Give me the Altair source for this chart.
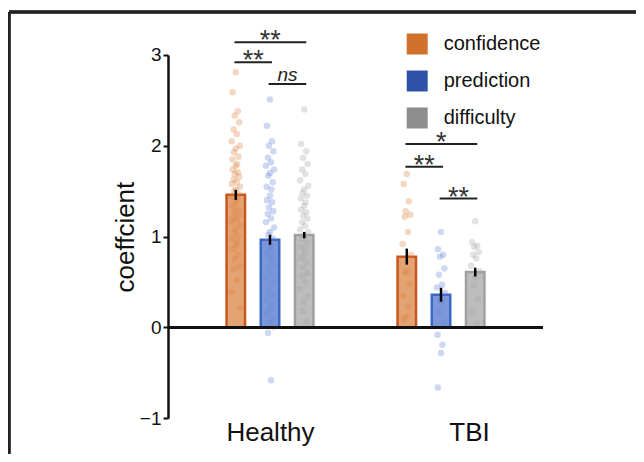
import altair as alt
import pandas as pd

GROUPS = ["Healthy", "TBI"]
MEASURES = ["confidence", "prediction", "difficulty"]
GROUP_POS = [0.0, 5.0]
MEASURE_OFFSET = [-1.0, 0.0, 1.0]
GROUP_LABEL_POS = [0.0, 5.82]

MEAN_HEALTHY = [1.46, 0.965, 1.017]
MEAN_TBI = [0.78, 0.36, 0.61]
SE_HEALTHY = [0.055, 0.055, 0.035]
SE_TBI = [0.088, 0.077, 0.048]

CONF_H = [2.81, 2.59, 2.38, 2.33, 2.26, 2.18, 2.13, 2.05, 2.0, 1.97, 1.93, 1.88, 1.85,
          1.8, 1.78, 1.74, 1.71, 1.69, 1.66, 1.63, 1.6, 1.58, 1.55, 1.52, 1.5, 1.47,
          1.44, 1.41, 1.38, 1.34, 1.3, 1.27, 1.24, 1.21, 1.18, 1.16, 1.12, 1.08, 1.04,
          1.01, 0.97, 0.94, 0.9, 0.86, 0.8, 0.75, 0.68, 0.64, 0.52, 0.39, 0.22]
PRED_H = [2.51, 2.22, 2.05, 2.0, 1.94, 1.87, 1.82, 1.78, 1.74, 1.7, 1.67, 1.6, 1.55,
          1.52, 1.45, 1.4, 1.38, 1.32, 1.28, 1.25, 1.2, 1.16, 1.1, 1.05, 1.02, 0.98,
          0.94, 0.9, 0.86, 0.82, 0.78, 0.75, 0.7, 0.66, 0.6, 0.55, 0.5, 0.46, 0.4,
          0.35, 0.31, 0.25, 0.2, 0.16, 0.1, 0.05, 0.01, -0.06, -0.58]
DIFF_H = [2.40, 2.02, 1.94, 1.87, 1.8, 1.74, 1.69, 1.62, 1.56, 1.52, 1.48, 1.45, 1.42,
          1.38, 1.34, 1.3, 1.27, 1.23, 1.2, 1.16, 1.12, 1.08, 1.05, 1.01, 0.97, 0.93,
          0.89, 0.86, 0.8, 0.76, 0.72, 0.66, 0.6, 0.57, 0.5, 0.42, 0.35, 0.28, 0.18, 0.06]
CONF_T = [1.69, 1.58, 1.39, 1.28, 1.24, 1.22, 1.05, 0.92, 0.8, 0.62, 0.6, 0.48, 0.35,
          0.23, 0.12, 0.09]
PRED_T = [1.05, 0.86, 0.8, 0.78, 0.65, 0.58, 0.47, 0.44, 0.38, 0.28, 0.17, 0.05, -0.08,
          -0.19, -0.28, -0.66]
DIFF_T = [1.17, 0.94, 0.9, 0.89, 0.83, 0.8, 0.76, 0.68, 0.62, 0.55, 0.46, 0.31, 0.17, 0.05]

JITTER = [0.0, -0.09, 0.06, -0.03, 0.1, -0.06, 0.03, -0.12, 0.12, 0.0, -0.05, 0.08, -0.1, 0.04]

SIG_GROUP = ["Healthy", "Healthy", "Healthy", "TBI", "TBI", "TBI"]
SIG_FROM = ["confidence", "confidence", "prediction", "confidence", "confidence", "prediction"]
SIG_TO = ["difficulty", "prediction", "difficulty", "difficulty", "prediction", "difficulty"]
SIG_LEVEL = [3.14, 2.92, 2.68, 2.02, 1.77, 1.42]
SIG_LABEL = ["**", "**", "ns", "*", "**", "**"]

LEGEND_COLORS = ["#D2712E", "#2F52A8", "#8E8E8E"]
BAR_FILL = ["#E3A373", "#7C98DA", "#BDBDBD"]
BAR_STROKE = ["#C9561D", "#3C68C6", "#A0A0A0"]
DOT_COLORS = ["#DC8442", "#6A86DA", "#A5A5A5"]

FONT = "Liberation Sans"

means = {"Healthy": MEAN_HEALTHY, "TBI": MEAN_TBI}
ses = {"Healthy": SE_HEALTHY, "TBI": SE_TBI}
dots = {("Healthy", "confidence"): CONF_H, ("Healthy", "prediction"): PRED_H,
        ("Healthy", "difficulty"): DIFF_H, ("TBI", "confidence"): CONF_T,
        ("TBI", "prediction"): PRED_T, ("TBI", "difficulty"): DIFF_T}


def pos(g, m):
    return GROUP_POS[GROUPS.index(g)] + MEASURE_OFFSET[MEASURES.index(m)]


bar_rows, dot_rows = [], []
for g in GROUPS:
    for mi, m in enumerate(MEASURES):
        p = pos(g, m)
        mu, se = means[g][mi], ses[g][mi]
        bar_rows.append({"group": g, "measure": m, "pos": p, "x0": p - 0.27, "x1": p + 0.27,
                         "mean": mu, "lo": mu - se, "hi": mu + se})
        for i, v in enumerate(dots[(g, m)]):
            dot_rows.append({"group": g, "measure": m, "xp": p + JITTER[i % len(JITTER)], "value": v})
bars_df = pd.DataFrame(bar_rows)
dots_df = pd.DataFrame(dot_rows)

sig_rows = []
for g, a, b, lvl, lab in zip(SIG_GROUP, SIG_FROM, SIG_TO, SIG_LEVEL, SIG_LABEL):
    xa, xb = pos(g, a) - 0.04, pos(g, b) + 0.06
    sig_rows.append({"xa": xa, "xb": xb, "xm": (xa + xb) / 2, "level": lvl, "label": lab})
sig_df = pd.DataFrame(sig_rows)

XSCALE = alt.Scale(domain=[-2.982, 7.982], nice=False, zero=False)
YSCALE = alt.Scale(domain=[-1, 3], nice=False, zero=False)

X_AXIS = alt.Axis(values=GROUP_LABEL_POS, labelExpr="datum.value < 2 ? 'Healthy' : 'TBI'",
                  ticks=False, domain=False, grid=False, title=None, labelFontSize=26,
                  labelFont=FONT, labelColor="#111", labelPadding=22,
                  labelBaseline="alphabetic", labelFlush=False)
Y_AXIS = alt.Axis(values=[-1, 0, 1, 2, 3], title="coeffcient", titleFontSize=26,
                  titleFont=FONT, titleFontWeight="normal", titleColor="#111",
                  titleX=-34.5, titleY=181.6, titleAngle=-90, titleAlign="center",
                  titleBaseline="alphabetic", labelFontSize=19, labelFont=FONT,
                  labelColor="#111", tickSize=5, tickWidth=2, tickColor="#111",
                  domainWidth=2.5, domainColor="#111", grid=False, labelPadding=2)


def X(field, **kw):
    return alt.X(field, scale=XSCALE, axis=X_AXIS, **kw)


def Y(field, **kw):
    return alt.Y(field, scale=YSCALE, axis=Y_AXIS, **kw)


frame_top = alt.Chart(bars_df).mark_rule(color="#222", strokeWidth=2.5).encode(
    x=alt.value(-159), x2=alt.value(470), y=alt.value(-43))
frame_left = alt.Chart(bars_df).mark_rule(color="#222", strokeWidth=2.5).encode(
    x=alt.value(-159), y=alt.value(-43), y2=alt.value(420))

bars = alt.Chart(bars_df).mark_bar(strokeWidth=2.5).encode(
    x=X("x0:Q"),
    x2="x1:Q",
    y=Y("mean:Q"),
    y2=alt.datum(0),
    fill=alt.Fill("measure:N", scale=alt.Scale(domain=MEASURES, range=BAR_FILL), legend=None),
    stroke=alt.Stroke("measure:N", scale=alt.Scale(domain=MEASURES, range=BAR_STROKE), legend=None),
)

points = alt.Chart(dots_df).mark_circle(size=42, opacity=0.32).encode(
    x=X("xp:Q"),
    y=Y("value:Q"),
    fill=alt.Fill("measure:N", scale=alt.Scale(domain=MEASURES, range=DOT_COLORS), legend=None),
)

zero = alt.Chart(bars_df).mark_rule(color="#111", strokeWidth=2.5).encode(
    y=alt.Y(datum=0, scale=YSCALE, axis=Y_AXIS))

errs = alt.Chart(bars_df).mark_rule(color="#000", strokeWidth=2.5).encode(
    x=X("pos:Q"),
    y=Y("lo:Q"),
    y2="hi:Q",
)

sig_lines = alt.Chart(sig_df).mark_rule(color="#222", strokeWidth=2).encode(
    x=X("xa:Q"), x2="xb:Q",
    y=Y("level:Q"),
)
sig_stars = alt.Chart(sig_df).transform_filter("datum.label != 'ns'").mark_text(
    font=FONT, fontSize=27, color="#333", baseline="alphabetic", dy=7).encode(
    x=X("xm:Q"),
    y=Y("level:Q"),
    text="label:N",
)
sig_ns = alt.Chart(sig_df).transform_filter("datum.label == 'ns'").mark_text(
    font=FONT, fontSize=19, fontStyle="italic", color="#222", baseline="alphabetic", dy=-3).encode(
    x=X("xm:Q"),
    y=Y("level:Q"),
    text="label:N",
)

legend_layer = alt.Chart(bars_df).transform_filter("false").mark_square(opacity=1).encode(
    x=X("pos:Q"),
    y=Y("mean:Q"),
    color=alt.Color("measure:N", scale=alt.Scale(domain=MEASURES, range=LEGEND_COLORS),
                    legend=alt.Legend(orient="none", legendX=238.7, legendY=-21.5, title=None,
                                      symbolType="square", symbolSize=441, symbolStrokeWidth=0,
                                      symbolOpacity=1, labelFontSize=20, labelFont=FONT,
                                      labelColor="#111", labelOffset=16, rowPadding=16,
                                      padding=0)),
)

chart = alt.layer(frame_top, frame_left, bars, points, zero, errs, sig_lines, sig_stars,
                  sig_ns, legend_layer).resolve_scale(
    color="independent", fill="independent", stroke="independent"
).properties(
    width=375, height=363.3,
    autosize=alt.AutoSizeParams(type="none"),
    padding={"left": 160, "top": 47, "right": 93, "bottom": 36},
).configure(background="white").configure_view(stroke=None)

chart.save("out.html", embed_options={"renderer": "svg", "actions": False})
